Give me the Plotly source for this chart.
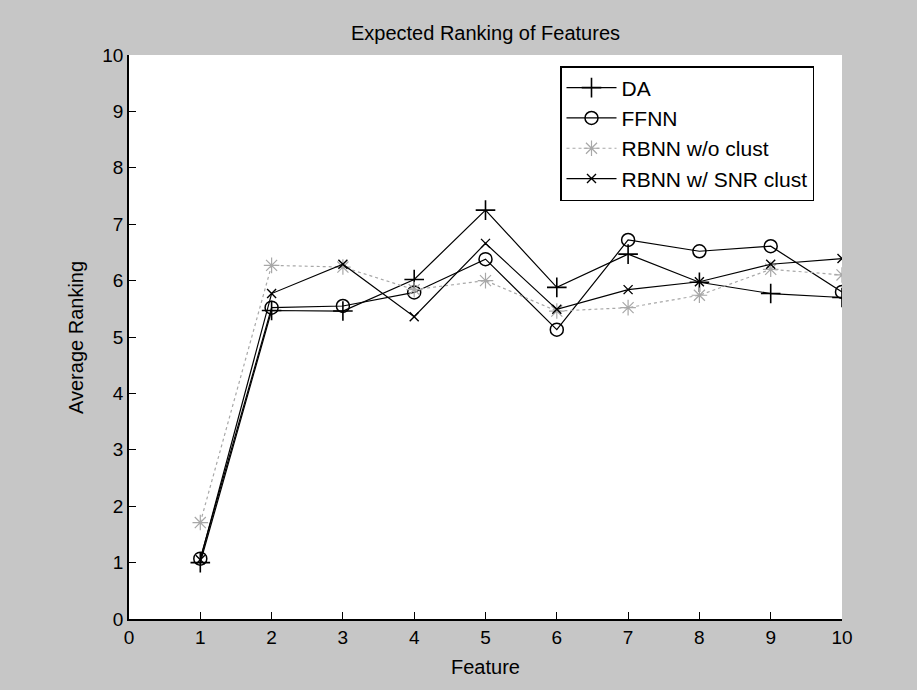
import plotly.graph_objects as go

features = [1, 2, 3, 4, 5, 6, 7, 8, 9, 10]
da = [1.00, 5.47, 5.46, 6.02, 7.25, 5.88, 6.47, 5.97, 5.77, 5.70]
ffnn = [1.07, 5.52, 5.55, 5.79, 6.38, 5.13, 6.72, 6.52, 6.61, 5.80]
rbnn_noclust = [1.71, 6.27, 6.24, 5.84, 6.00, 5.46, 5.52, 5.74, 6.20, 6.10]
rbnn_snr = [1.05, 5.77, 6.29, 5.36, 6.66, 5.49, 5.84, 5.98, 6.29, 6.39]
tick_vals = list(range(0, 11))

FONT = "Liberation Sans"
BG = "#c6c6c6"

fig = go.Figure()
fig.add_trace(go.Scatter(
    x=features, y=da, name="DA", mode="lines+markers",
    line=dict(color="black", width=1.2),
    marker=dict(symbol="cross-thin-open", size=14, line=dict(color="black", width=1.6)),
))
fig.add_trace(go.Scatter(
    x=features, y=ffnn, name="FFNN", mode="lines+markers",
    line=dict(color="black", width=1.2),
    marker=dict(symbol="circle-open", size=13, color="black", line=dict(color="black", width=1.5)),
))
fig.add_trace(go.Scatter(
    x=features, y=rbnn_noclust, name="RBNN w/o clust", mode="lines+markers",
    line=dict(color="#a8a8a8", width=1.2, dash="dot"),
    marker=dict(symbol="asterisk-open", size=13, line=dict(color="#a8a8a8", width=1.2)),
))
fig.add_trace(go.Scatter(
    x=features, y=rbnn_snr, name="RBNN w/ SNR clust", mode="lines+markers",
    line=dict(color="black", width=1.2),
    marker=dict(symbol="x-thin-open", size=9, line=dict(color="black", width=1.4)),
))

axis_common = dict(
    range=[0, 10], tickvals=tick_vals, ticktext=[str(v) for v in tick_vals],
    ticks="inside", ticklen=7, tickwidth=1.3, tickcolor="black",
    showline=True, linecolor="black", linewidth=1.5,
    showgrid=False, zeroline=False,
    tickfont=dict(family=FONT, size=19, color="black"),
)

fig.update_layout(
    width=917, height=690,
    paper_bgcolor=BG, plot_bgcolor="white",
    margin=dict(l=129, r=75, t=55, b=71),
    font=dict(family=FONT, size=20, color="black"),
    title=dict(text="Expected Ranking of Features", x=0.5, xref="paper",
               y=1 - 33 / 690, yref="container", yanchor="middle",
               font=dict(family=FONT, size=20, color="black")),
    xaxis=axis_common,
    yaxis=axis_common,
    showlegend=True,
    legend=dict(
        x=(560 - 129) / 713, y=(619 - 66) / 564, xanchor="left", yanchor="top",
        bgcolor="white", bordercolor="black", borderwidth=1.5,
        font=dict(family=FONT, size=21, color="black"),
        tracegroupgap=0, itemwidth=50,
    ),
    annotations=[
        dict(text="Feature", xref="paper", yref="paper", x=0.5, y=(619 - 667) / 564,
             xanchor="center", yanchor="middle", showarrow=False,
             font=dict(family=FONT, size=20, color="black")),
        dict(text="Average Ranking", xref="paper", yref="paper", x=(76 - 129) / 713,
             y=(619 - 338) / 564, xanchor="center", yanchor="middle", textangle=-90,
             showarrow=False, font=dict(family=FONT, size=20, color="black")),
    ],
)

fig.write_html("out.html")
